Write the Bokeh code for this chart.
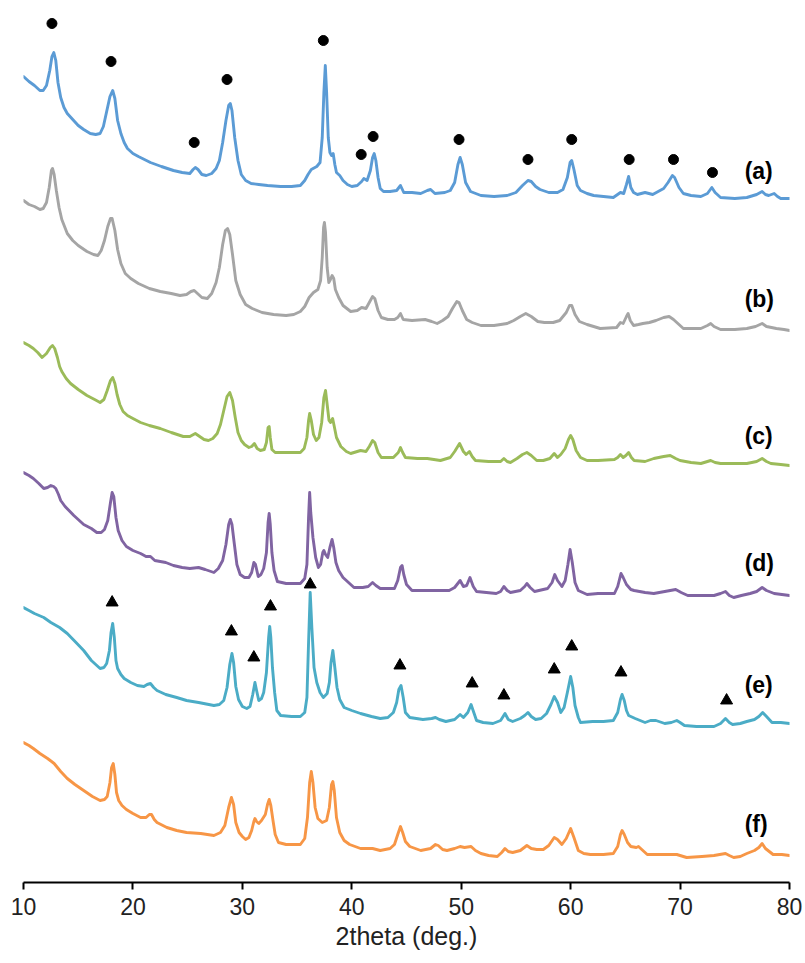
from bokeh.plotting import figure
from bokeh.models import Range1d, FixedTicker
from bokeh.core.properties import value
from bokeh.embed import file_html
from bokeh.resources import INLINE

# 2theta (deg.) / stacked intensity (a.u.)
A_X = [10.0, 10.5, 11.0, 11.5, 11.8, 12.1, 12.4, 12.6, 12.77, 12.95, 13.15, 13.4, 13.7, 14.0, 14.5, 15.0, 15.5, 16.1, 16.6, 17.0, 17.3, 17.6, 17.9, 18.15, 18.35, 18.6, 18.9, 19.2, 19.5, 20.0, 20.5, 21.6, 22.6, 23.7, 24.5, 25.2, 25.5, 25.7, 25.95, 26.3, 26.7, 27.2, 27.6, 27.9, 28.2, 28.5, 28.75, 28.9, 29.05, 29.3, 29.6, 29.9, 30.3, 30.8, 31.5, 32.3, 33.5, 34.5, 35.3, 35.7, 36.0, 36.3, 36.8, 37.1, 37.3, 37.45, 37.58, 37.7, 37.85, 38.0, 38.15, 38.3, 38.45, 38.6, 38.9, 39.2, 39.6, 40.0, 40.5, 40.9, 41.1, 41.4, 41.7, 41.9, 42.05, 42.2, 42.4, 42.6, 42.9, 43.5, 44.1, 44.45, 44.75, 45.5, 46.3, 46.9, 47.2, 47.6, 48.5, 49.0, 49.4, 49.7, 49.9, 50.1, 50.4, 50.85, 51.8, 53.0, 54.2, 55.0, 55.6, 56.1, 56.4, 56.8, 57.2, 58.0, 58.8, 59.3, 59.7, 59.95, 60.1, 60.3, 60.6, 60.9, 61.5, 62.1, 63.0, 63.9, 64.55, 64.85, 65.1, 65.3, 65.5, 65.75, 66.1, 66.8, 67.5, 68.0, 68.5, 68.9, 69.3, 69.5, 69.9, 70.3, 71.0, 71.9, 72.5, 72.9, 73.2, 73.7, 75.0, 76.1, 77.0, 77.5, 77.8, 78.1, 78.6, 78.9, 79.2, 80.0]
A_Y = [806, 801, 797, 792, 792, 797, 812, 826, 830, 822, 800, 785, 775, 769, 763, 757, 753, 749, 748, 749, 756, 771, 786, 792, 784, 762, 749, 740, 734, 729, 726, 720, 716, 712, 710, 709, 713, 715, 713, 708, 707, 709, 714, 722, 740, 762, 777, 779, 772, 745, 722, 708, 702, 699, 698, 697, 696, 696, 697, 702, 708, 713, 716, 720, 745, 790, 817, 790, 745, 730, 727, 729, 718, 710, 707, 702, 698, 696, 697, 701, 704, 702, 712, 725, 729, 722, 705, 694, 691, 691, 692, 697, 690, 690, 689, 692, 693, 689, 690, 692, 700, 718, 725, 718, 700, 691, 687, 686, 687, 690, 697, 702, 701, 696, 693, 690, 690, 693, 705, 720, 722, 713, 697, 692, 689, 687, 686, 685, 690, 689, 698, 706, 695, 690, 688, 690, 688, 691, 694, 700, 707, 705, 695, 689, 687, 686, 689, 695, 690, 685, 684, 685, 688, 691, 688, 687, 689, 686, 684, 684]

B_X = [10.0, 10.5, 11.0, 11.5, 11.8, 12.1, 12.35, 12.55, 12.65, 12.8, 13.0, 13.25, 13.5, 14.0, 14.5, 15.0, 15.8, 16.4, 16.8, 17.1, 17.4, 17.7, 17.95, 18.1, 18.35, 18.6, 18.9, 19.3, 19.8, 20.5, 21.5, 22.5, 23.5, 24.3, 24.9, 25.3, 25.6, 25.9, 26.3, 26.8, 27.2, 27.6, 27.9, 28.2, 28.45, 28.65, 28.85, 29.1, 29.4, 29.8, 30.3, 30.9, 31.8, 32.85, 34.0, 34.7, 35.3, 35.7, 36.1, 36.5, 36.9, 37.15, 37.3, 37.42, 37.5, 37.6, 37.75, 37.9, 38.05, 38.2, 38.35, 38.5, 38.8, 39.2, 39.9, 40.5, 40.9, 41.3, 41.6, 41.9, 42.1, 42.4, 42.7, 43.3, 43.9, 44.2, 44.45, 44.7, 45.5, 46.7, 47.3, 47.8, 48.3, 48.8, 49.2, 49.6, 49.8, 50.1, 50.5, 51.0, 51.8, 53.0, 54.2, 54.8, 55.4, 55.9, 56.4, 57.0, 57.6, 58.4, 59.0, 59.6, 59.9, 60.1, 60.4, 60.8, 61.5, 62.7, 64.2, 64.55, 64.8, 65.1, 65.25, 65.45, 65.75, 66.2, 66.6, 67.2, 67.8, 68.5, 69.0, 69.4, 69.9, 70.3, 71.0, 71.9, 72.5, 72.8, 73.1, 73.7, 75.0, 76.1, 76.9, 77.5, 77.9, 78.8, 79.5, 80.0]
B_Y = [682, 678, 676, 673, 674, 680, 695, 712, 714, 708, 692, 675, 663, 649, 642, 637, 631, 628, 627, 632, 642, 656, 664, 664, 652, 633, 619, 609, 604, 599, 594, 591, 589, 587, 588, 591, 592, 589, 585, 584, 589, 600, 615, 638, 652, 654, 648, 628, 602, 588, 578, 574, 570, 568, 567, 568, 571, 576, 585, 590, 593, 602, 625, 655, 660, 650, 615, 600, 603, 607, 604, 593, 585, 577, 571, 572, 575, 574, 580, 586, 584, 572, 565, 563, 563, 565, 569, 563, 562, 563, 561, 559, 562, 566, 574, 581, 580, 572, 563, 560, 557, 557, 559, 562, 566, 569, 566, 561, 560, 560, 562, 570, 577, 577, 568, 561, 558, 554, 555, 560, 559, 566, 569, 562, 557, 558, 559, 560, 562, 565, 566, 563, 558, 554, 554, 554, 557, 559, 556, 553, 553, 554, 556, 559, 556, 554, 553, 552]

C_X = [10.0, 10.5, 10.9, 11.3, 11.7, 12.1, 12.45, 12.65, 12.85, 13.1, 13.3, 13.5, 13.9, 14.3, 15.0, 15.8, 16.5, 17.0, 17.35, 17.65, 17.95, 18.15, 18.35, 18.55, 18.8, 19.1, 19.5, 20.0, 20.7, 21.5, 22.5, 23.5, 24.6, 25.2, 25.7, 26.1, 26.5, 26.9, 27.3, 27.7, 28.0, 28.3, 28.6, 28.85, 29.1, 29.35, 29.6, 29.9, 30.2, 30.6, 30.85, 31.1, 31.35, 31.65, 32.0, 32.2, 32.35, 32.45, 32.55, 32.7, 33.0, 34.0, 35.3, 35.65, 35.9, 36.05, 36.15, 36.3, 36.5, 36.75, 37.0, 37.25, 37.45, 37.6, 37.75, 37.92, 38.05, 38.25, 38.4, 38.6, 39.0, 39.5, 39.9, 40.5, 40.8, 41.3, 41.6, 41.9, 42.1, 42.4, 42.7, 43.8, 44.25, 44.45, 44.65, 44.9, 46.0, 46.9, 48.1, 49.0, 49.4, 49.85, 50.2, 50.45, 50.75, 51.0, 51.3, 52.5, 53.6, 53.9, 54.2, 54.5, 55.1, 55.6, 56.0, 56.4, 56.9, 57.5, 58.1, 58.5, 58.8, 59.1, 59.5, 59.8, 60.0, 60.2, 60.5, 60.9, 61.5, 62.5, 64.0, 64.3, 64.55, 64.8, 65.05, 65.3, 65.55, 65.8, 66.8, 67.6, 68.5, 69.1, 69.6, 70.0, 71.0, 71.9, 72.5, 72.8, 73.2, 73.7, 75.0, 76.1, 77.0, 77.5, 77.9, 78.3, 79.2, 80.0]
C_Y = [540, 537, 534, 530, 525, 529, 535, 537, 534, 525, 516, 511, 504, 499, 493, 487, 483, 480, 483, 492, 502, 505, 499, 488, 478, 471, 467, 464, 460, 457, 454, 450, 446, 446, 449, 446, 443, 442, 444, 449, 458, 472, 486, 490, 482, 465, 450, 442, 438, 435, 436, 439, 434, 432, 433, 440, 455, 456, 445, 433, 430, 430, 430, 434, 445, 462, 469, 462, 448, 442, 445, 460, 485, 492, 478, 462, 460, 464, 456, 445, 436, 431, 429, 431, 432, 431, 436, 442, 440, 430, 425, 425, 430, 435, 430, 425, 424, 424, 422, 425, 431, 439, 431, 428, 431, 426, 422, 421, 421, 424, 421, 420, 424, 428, 430, 427, 422, 422, 424, 429, 425, 428, 434, 443, 447, 443, 432, 425, 422, 422, 423, 425, 428, 425, 427, 430, 425, 422, 421, 424, 426, 427, 424, 422, 420, 419, 421, 422, 420, 419, 419, 419, 421, 424, 421, 419, 418, 417]

D_X = [10.0, 10.5, 10.9, 11.4, 11.85, 12.2, 12.5, 12.75, 12.95, 13.2, 13.4, 13.8, 14.6, 15.5, 16.2, 16.7, 17.1, 17.4, 17.7, 17.95, 18.1, 18.25, 18.45, 18.65, 19.0, 19.4, 20.0, 20.7, 21.2, 21.6, 22.0, 23.0, 23.7, 24.5, 25.2, 26.0, 26.6, 27.4, 27.8, 28.2, 28.5, 28.75, 28.9, 29.05, 29.25, 29.5, 29.8, 30.2, 30.6, 30.85, 31.05, 31.2, 31.45, 31.7, 31.95, 32.2, 32.35, 32.45, 32.55, 32.7, 32.9, 33.2, 34.0, 35.3, 35.7, 35.9, 36.05, 36.15, 36.25, 36.45, 36.7, 36.95, 37.15, 37.35, 37.45, 37.6, 37.8, 38.0, 38.2, 38.35, 38.55, 38.8, 39.2, 40.2, 41.0, 41.5, 41.9, 42.2, 42.6, 43.4, 43.9, 44.2, 44.45, 44.6, 44.75, 45.0, 45.5, 46.3, 48.0, 48.9, 49.4, 49.9, 50.2, 50.5, 50.8, 51.1, 51.4, 52.3, 53.2, 53.6, 53.9, 54.2, 54.5, 55.4, 55.8, 56.0, 56.3, 56.7, 57.9, 58.3, 58.55, 58.8, 59.2, 59.5, 59.75, 59.95, 60.15, 60.4, 60.7, 61.5, 62.5, 64.0, 64.3, 64.6, 64.8, 65.1, 65.5, 65.8, 66.8, 67.6, 68.6, 69.6, 70.1, 70.7, 72.0, 73.1, 73.7, 74.15, 74.5, 74.9, 75.6, 76.4, 77.0, 77.5, 77.9, 78.6, 79.3, 80.0]
D_Y = [410, 407, 404, 399, 394, 395, 397, 396, 394, 388, 382, 376, 367, 358, 354, 350, 350, 353, 362, 380, 390, 386, 365, 352, 342, 336, 332, 329, 326, 326, 322, 320, 317, 315, 314, 315, 313, 310, 314, 322, 338, 358, 363, 358, 340, 318, 308, 305, 305, 310, 320, 318, 306, 308, 314, 330, 360, 369, 358, 330, 312, 301, 299, 299, 304, 318, 365, 390, 370, 345, 325, 315, 318, 330, 332, 328, 325, 335, 343, 335, 320, 312, 305, 295, 295, 296, 300, 297, 294, 294, 294, 302, 315, 317, 308, 298, 292, 292, 292, 292, 295, 302, 296, 297, 305, 296, 291, 290, 289, 291, 296, 292, 290, 292, 296, 299, 295, 291, 294, 300, 308, 302, 296, 302, 318, 333, 320, 300, 292, 288, 289, 289, 296, 309, 305, 298, 293, 292, 290, 289, 291, 293, 290, 287, 287, 287, 289, 291, 287, 285, 287, 289, 291, 295, 292, 289, 288, 287]

E_X = [10.0, 10.5, 11.0, 11.85, 12.5, 13.3, 14.0, 14.8, 15.5, 16.2, 17.0, 17.35, 17.6, 17.85, 18.0, 18.15, 18.3, 18.45, 18.6, 18.9, 19.2, 19.8, 20.4, 21.0, 21.3, 21.6, 21.9, 22.2, 23.0, 24.0, 24.9, 26.0, 27.4, 27.9, 28.3, 28.6, 28.85, 29.05, 29.2, 29.4, 29.65, 30.0, 30.4, 30.7, 30.95, 31.15, 31.3, 31.5, 31.75, 31.95, 32.2, 32.4, 32.5, 32.6, 32.75, 32.95, 33.15, 33.5, 34.5, 35.3, 35.7, 35.9, 36.05, 36.2, 36.35, 36.55, 36.8, 37.1, 37.4, 37.75, 37.95, 38.1, 38.27, 38.45, 38.65, 38.9, 39.3, 40.0, 40.8, 41.8, 42.6, 43.3, 43.8, 44.1, 44.3, 44.5, 44.7, 44.9, 45.3, 46.5, 47.3, 47.65, 48.0, 48.6, 49.4, 49.9, 50.2, 50.6, 50.9, 51.15, 51.4, 52.0, 52.9, 53.6, 54.0, 54.3, 54.7, 55.4, 55.8, 56.1, 56.4, 56.8, 57.3, 57.8, 58.2, 58.5, 58.8, 59.1, 59.4, 59.7, 60.0, 60.2, 60.4, 60.7, 60.9, 62.0, 63.0, 63.9, 64.3, 64.55, 64.7, 64.9, 65.1, 65.3, 65.9, 66.8, 67.3, 67.8, 68.6, 69.2, 69.7, 70.0, 70.4, 71.5, 73.1, 73.7, 74.15, 74.5, 74.8, 75.5, 76.1, 76.8, 77.2, 77.55, 77.9, 78.4, 79.2, 80.0]
E_Y = [275, 272, 269, 265, 260, 255, 249, 240, 232, 222, 214, 215, 219, 232, 250, 259, 245, 222, 214, 208, 204, 200, 197, 196, 198, 199, 195, 192, 188, 185, 182, 180, 177, 178, 182, 195, 218, 229, 220, 196, 183, 176, 174, 176, 188, 200, 192, 182, 184, 190, 210, 245, 256, 245, 215, 190, 172, 167, 166, 166, 170, 185, 240, 290, 255, 215, 200, 190, 185, 189, 200, 220, 232, 215, 195, 183, 175, 172, 169, 166, 164, 165, 170, 180, 193, 197, 185, 170, 165, 163, 164, 165, 163, 161, 163, 168, 165, 170, 178, 170, 162, 160, 159, 162, 169, 163, 161, 164, 167, 170, 166, 163, 164, 169, 178, 186, 180, 170, 175, 190, 206, 195, 177, 165, 160, 161, 161, 162, 170, 183, 188, 182, 172, 167, 164, 160, 162, 162, 159, 160, 162, 160, 157, 156, 156, 159, 164, 160, 158, 159, 161, 163, 166, 170, 166, 160, 160, 159]

F_X = [10.0, 10.5, 10.9, 11.5, 12.2, 12.8, 13.4, 14.0, 14.7, 15.5, 16.3, 17.0, 17.4, 17.65, 17.9, 18.05, 18.2, 18.35, 18.5, 18.7, 19.0, 19.4, 20.0, 20.7, 21.2, 21.5, 21.7, 21.95, 22.2, 23.1, 24.0, 24.9, 26.2, 27.4, 28.0, 28.4, 28.75, 29.0, 29.2, 29.4, 29.7, 30.0, 30.3, 30.6, 30.85, 31.05, 31.15, 31.3, 31.5, 31.75, 32.1, 32.3, 32.45, 32.6, 32.8, 33.0, 33.3, 34.0, 35.3, 35.7, 35.95, 36.15, 36.3, 36.45, 36.65, 36.9, 37.3, 37.7, 37.95, 38.15, 38.27, 38.4, 38.6, 38.9, 39.3, 39.8, 40.8, 41.9, 42.6, 43.5, 43.9, 44.2, 44.45, 44.65, 44.9, 45.3, 46.3, 47.2, 47.65, 47.9, 48.3, 48.7, 49.4, 49.9, 50.3, 50.9, 51.3, 51.8, 52.5, 53.3, 53.7, 54.0, 54.3, 54.7, 55.4, 56.0, 56.4, 56.9, 57.5, 58.0, 58.5, 58.8, 59.2, 59.6, 60.0, 60.3, 60.7, 61.2, 61.8, 63.0, 63.9, 64.3, 64.55, 64.7, 64.9, 65.2, 65.5, 66.0, 66.2, 66.5, 67.0, 68.5, 69.7, 70.6, 72.0, 73.1, 74.15, 74.5, 74.9, 75.5, 76.1, 76.8, 77.2, 77.5, 77.8, 78.5, 79.3, 80.0]
F_Y = [140, 137, 134, 129, 124, 119, 111, 104, 98, 92, 86, 82, 83, 86, 100, 115, 119, 108, 90, 82, 77, 73, 69, 65, 65, 68, 68, 63, 60, 55, 52, 50, 49, 47, 50, 57, 75, 85, 78, 60, 50, 46, 43, 45, 52, 61, 64, 61, 59, 62, 68, 78, 83, 77, 62, 48, 40, 38, 38, 44, 65, 100, 111, 100, 75, 64, 60, 62, 75, 98, 101, 92, 65, 50, 42, 38, 34, 34, 32, 34, 38, 48, 56, 50, 41, 36, 32, 34, 38, 37, 33, 32, 34, 36, 35, 36, 32, 29, 27, 26, 30, 34, 31, 30, 32, 37, 34, 33, 33, 37, 45, 43, 38, 44, 54, 45, 32, 29, 28, 28, 29, 36, 48, 52, 48, 40, 36, 35, 36, 33, 28, 28, 28, 25, 26, 27, 29, 27, 25, 26, 29, 32, 35, 39, 34, 28, 28, 27]

# phase markers
CIRCLE_X = [12.6, 18.0, 25.6, 28.6, 37.4, 40.86, 41.95, 49.8, 56.1, 60.1, 65.35, 69.4, 72.96]
CIRCLE_Y = [859, 821, 740, 803, 842, 728, 746, 743, 723, 743, 723, 723, 710]
TRI_X = [18.1, 29.0, 31.05, 32.57, 36.2, 44.4, 51.0, 53.9, 58.5, 60.1, 64.6, 74.25]
TRI_Y = [280, 251, 225, 276, 298, 217, 199, 187, 213, 236, 210, 182]

LABELS = ["(a)", "(b)", "(c)", "(d)", "(e)", "(f)"]
LABEL_Y = [712, 584, 447, 320, 198, 59]
LABEL_X = 75.9

TICKS = [10, 20, 30, 40, 50, 60, 70, 80]
COLORS = ["#5B9BD5", "#A5A5A5", "#9BBB59", "#8064A2", "#4BACC6", "#F79646"]

p = figure(width=805, height=963, output_backend="svg", toolbar_location=None,
           x_range=Range1d(10, 80), y_range=Range1d(0, 882),
           min_border_left=23, min_border_right=16, min_border_top=0, min_border_bottom=81)
p.outline_line_color = None
p.grid.visible = False
p.yaxis.visible = False
p.background_fill_color = "white"

series = [(A_X, A_Y), (B_X, B_Y), (C_X, C_Y), (D_X, D_Y), (E_X, E_Y), (F_X, F_Y)]
for (xs, ys), c in zip(series, COLORS):
    p.line(xs, ys, line_color=c, line_width=2.9, line_join="round", line_cap="round")

p.scatter(CIRCLE_X, CIRCLE_Y, marker="circle", size=10, fill_color="black", line_color="black")
p.scatter(TRI_X, TRI_Y, marker="triangle", size=12, fill_color="black", line_color="black")

p.text([LABEL_X] * len(LABELS), LABEL_Y, text=LABELS, text_align="left", text_baseline="middle",
       text_font=value("Liberation Sans"), text_font_style="bold", text_font_size="23px",
       text_color="black")

ax = p.xaxis[0]
ax.ticker = FixedTicker(ticks=TICKS)
ax.axis_label = "2theta (deg.)"
ax.axis_label_text_font = "Liberation Sans"
ax.axis_label_text_font_style = "normal"
ax.axis_label_text_font_size = "25px"
ax.axis_label_text_color = "#222222"
ax.axis_label_standoff = 4
ax.major_label_text_font = "Liberation Sans"
ax.major_label_text_font_size = "23px"
ax.major_label_text_color = "#222222"
ax.major_label_standoff = 8
ax.axis_line_color = "black"
ax.axis_line_width = 2
ax.major_tick_line_color = "black"
ax.major_tick_line_width = 2
ax.major_tick_out = 7
ax.major_tick_in = 0
ax.minor_tick_line_color = None

open("out.html", "w").write(file_html(p, INLINE))
